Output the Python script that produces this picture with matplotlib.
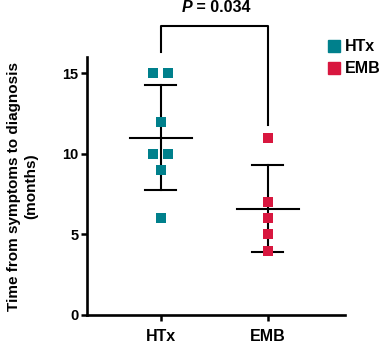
import matplotlib
matplotlib.use("Agg")
import matplotlib.pyplot as plt
import numpy as np
from matplotlib.lines import Line2D

plt.rcParams['font.family'] = ['Liberation Sans', 'DejaVu Sans']
plt.rcParams['font.weight'] = 'bold'

categories = ["HTx", "EMB"]
htx_values = [15, 15, 12, 10, 10, 9, 6]
htx_offsets = [-0.07, 0.07, 0, -0.07, 0.07, 0, 0]
emb_values = [11, 7, 6, 5, 4]
emb_offsets = [0, 0, 0, 0, 0]
colors = ["#00808C", "#D8173F"]
p_label = "0.034"
y_ticks = [0, 5, 10, 15]

fig = plt.figure(figsize=(3.83, 3.46), dpi=100)
ax = fig.add_axes([0.227, 0.0896, 0.674, 0.7454])

groups = [(htx_values, htx_offsets), (emb_values, emb_offsets)]
for i, (vals, offs) in enumerate(groups):
    vals = np.array(vals, dtype=float)
    x = i + np.array(offs)
    m = vals.mean()
    sd = vals.std(ddof=1)
    ax.plot([i - 0.29, i + 0.29], [m, m], color='black', lw=1.5, zorder=2)
    ax.plot([i, i], [m - sd, m + sd], color='black', lw=1.5, zorder=2)
    for yy in (m - sd, m + sd):
        ax.plot([i - 0.145, i + 0.145], [yy, yy], color='black', lw=1.5, zorder=2)
    ax.scatter(x, vals, marker='s', s=50, color=colors[i], zorder=3, linewidths=0)

ax.set_xlim(-0.69, 1.72)
ax.set_ylim(0, 16)
ax.set_xticks([0, 1])
ax.set_xticklabels(categories, fontsize=11.5, fontweight='bold')
ax.set_yticks(y_ticks)
ax.set_yticklabels([str(t) for t in y_ticks], fontsize=10.5, fontweight='bold')
ax.tick_params(axis='both', direction='out', length=4, width=1.8, pad=2)
ax.tick_params(axis='x', pad=6)
for s in ['top', 'right']:
    ax.spines[s].set_visible(False)
for s in ['left', 'bottom']:
    ax.spines[s].set_linewidth(1.9)
ax.set_ylabel("Time from symptoms to diagnosis\n(months)", fontsize=11,
              fontweight='bold', labelpad=17, linespacing=1.3)

# significance bracket
ax.plot([0, 0, 1, 1], [16.3, 17.9, 17.9, 11.8], color='black', lw=1.5, clip_on=False)
t = ax.text(0.5 - 0.21, 19.1, "P", fontsize=11.5, fontweight='bold', style='italic',
            ha='right', va='center', transform=ax.transData)
ax.annotate(" = " + p_label, xy=(1, 0.5), xycoords=t, fontsize=11.5, fontweight='bold',
            ha='left', va='center')

handles = [Line2D([], [], marker='s', linestyle='none', color=c, markersize=8) for c in colors]
fig.legend(handles, categories, loc='upper left', bbox_to_anchor=(0.83, 0.905),
           frameon=False, prop={'weight': 'bold', 'size': 11.5}, handletextpad=0.1,
           handlelength=1.2, labelspacing=0.45, borderaxespad=0)

fig.savefig("out.png", dpi=100)
